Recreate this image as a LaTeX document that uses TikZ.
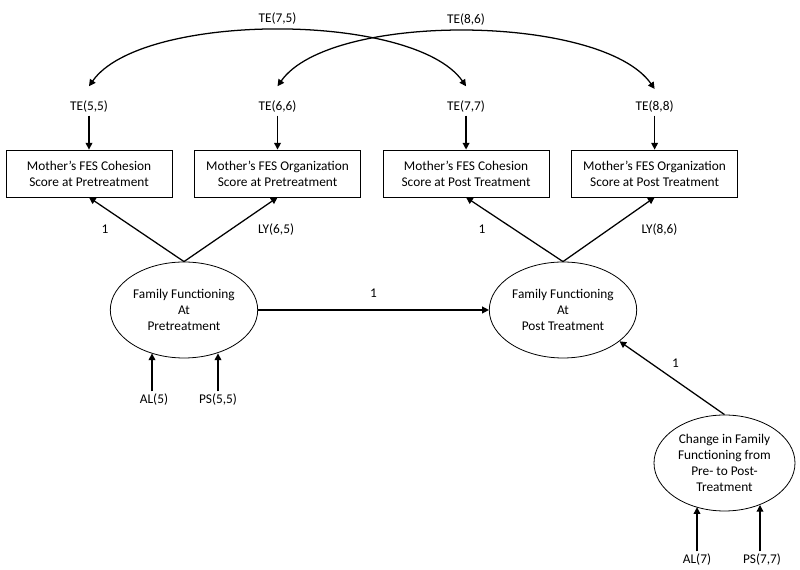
\documentclass[tikz,border=0pt]{standalone}
\usepackage{fontspec}
\setmainfont{Carlito}
\usetikzlibrary{arrows.meta,shapes.geometric}

\begin{document}
\begin{tikzpicture}[
  x=0.75pt, y=0.75pt,
  box/.style={rectangle, draw, line width=0.6pt, minimum width=124.5pt, minimum height=35.25pt, align=center, inner sep=2pt},
  latent/.style={ellipse, draw, line width=0.6pt, minimum width=103.5pt, minimum height=72pt, align=center, inner sep=1pt},
  lbl/.style={inner sep=2pt},
  arr/.style={-{Triangle[length=5pt,width=5pt]}, line width=0.95pt},
  cov/.style={{Triangle[length=5pt,width=5pt]}-{Triangle[length=5pt,width=5pt]}, line width=0.95pt},
  node distance=141.4pt,
  font=\fontsize{10}{12}\selectfont
]
\useasboundingbox (0,0) rectangle (800,570);

% observed scores
\node[box] (cohPre) at (89,396.5) {Mother’s FES Cohesion\\Score at Pretreatment};
\node[box, right of=cohPre] (orgPre) {Mother’s FES Organization\\Score at Pretreatment};
\node[box, right of=orgPre] (cohPost) {Mother’s FES Cohesion\\Score at Post Treatment};
\node[box, right of=cohPost] (orgPost) {Mother’s FES Organization\\Score at Post Treatment};

% error terms
\node[lbl, above of=cohPre, node distance=49.9pt] (te55) {TE(5,5)};
\node[lbl, above of=orgPre, node distance=49.9pt] (te66) {TE(6,6)};
\node[lbl, above of=cohPost, node distance=49.9pt] (te77) {TE(7,7)};
\node[lbl, above of=orgPost, node distance=49.9pt] (te88) {TE(8,8)};

% latent variables
\node[latent] (famPre) at (184,260) {Family Functioning\\At\\Pretreatment};
\node[latent, right of=famPre, node distance=284.25pt] (famPost) {Family Functioning\\At\\Post Treatment};
\node[latent, minimum width=105.75pt] (famChg) at (724.5,107) {Change in Family\\Functioning from\\Pre- to Post-\\Treatment};

\node[lbl] (al5) at (154,170) {AL(5)};
\node[lbl] (ps55) at (218,170) {PS(5,5)};
\node[lbl] (al7) at (697,10) {AL(7)};
\node[lbl] (ps77) at (762,10) {PS(7,7)};

\draw[arr] (te55) -- (cohPre);
\draw[arr] (te66) -- (orgPre);
\draw[arr] (te77) -- (cohPost);
\draw[arr] (te88) -- (orgPost);

\draw[cov] ([yshift=9pt]te55.north) to[out=55, in=125, looseness=0.62] node[lbl, above=2pt] (te75) {TE(7,5)} ([yshift=9pt]te77.north);
\draw[cov] ([yshift=9pt]te66.north) to[out=55, in=125, looseness=0.62] node[lbl, above=2pt] (te86) {TE(8,6)} ([yshift=7pt]te88.north);

\draw[arr] (famPre.north) -- node[lbl, xshift=-23.6pt] (ldCohPre) {1} (cohPre.south);
\draw[arr] (famPre.north) -- node[lbl, xshift=34pt] (ldOrgPre) {LY(6,5)} (orgPre.south);
\draw[arr] (famPost.north) -- node[lbl, xshift=-24.4pt] (ldCohPost) {1} (cohPost.south);
\draw[arr] (famPost.north) -- node[lbl, xshift=38pt] (ldOrgPost) {LY(8,6)} (orgPost.south);

\draw[arr] (famPre) -- node[lbl, above=7pt] (bStab) {1} (famPost);
\draw[arr] (famChg.north) -- node[lbl, xshift=2.6pt, yshift=10.9pt] (bChg) {1} (famPost.331);

\draw[arr] ([xshift=-1.5pt]al5.north) -- ([xshift=-1.5pt]al5.north |- famPre.233);
\draw[arr] (ps55.north) -- (ps55.north |- famPre.307);
\draw[arr] (al7.north) -- (al7.north |- famChg.237);
\draw[arr] ([xshift=-1.5pt]ps77.north) -- ([xshift=-1.5pt]ps77.north |- famChg.310);
\end{tikzpicture}
\end{document}
